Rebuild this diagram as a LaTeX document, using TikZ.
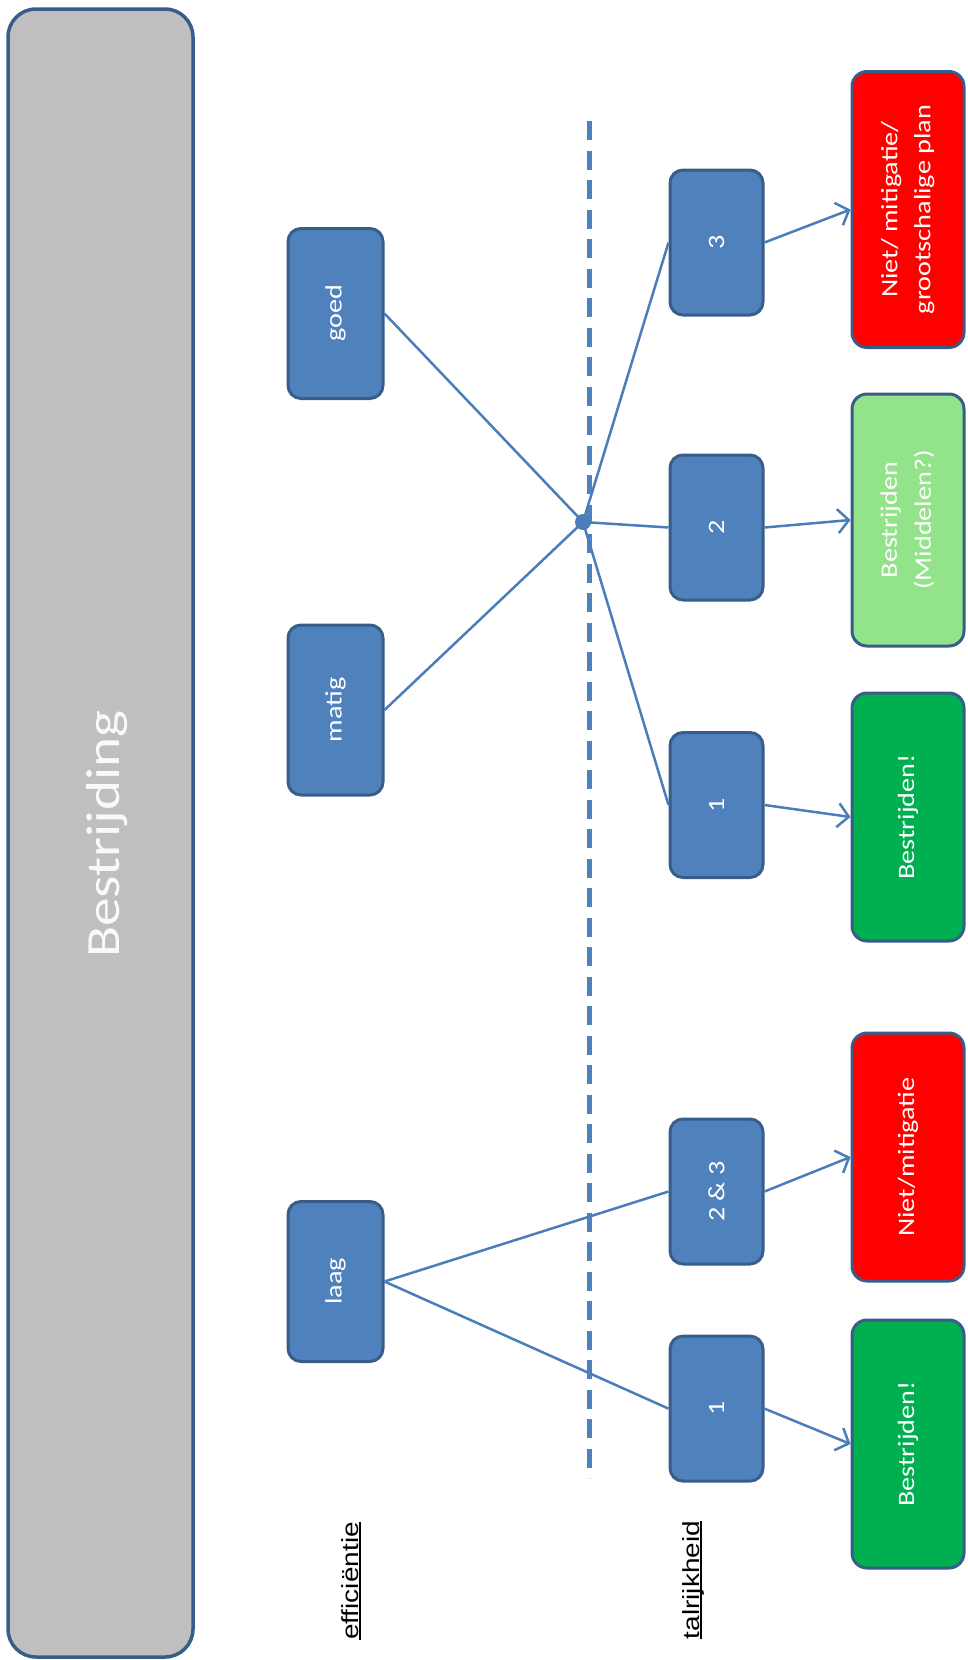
\documentclass[tikz,border=0pt]{standalone}
\usepackage{fontspec}
\usepackage{graphicx}
\usetikzlibrary{arrows.meta}
\newfontfamily\carlitofont[FakeStretch=1.2]{Carlito}
\newfontfamily\arialfont[FakeStretch=1.2]{Liberation Sans}
\newcommand\myunderline[1]{\setbox0\hbox{#1}\rlap{\rule[-2.5pt]{\wd0}{1.4pt}}\box0}
\definecolor{bfill}{HTML}{4F81BD}
\definecolor{bdark}{HTML}{385D8A}
\definecolor{lblue}{HTML}{4A7EBB}
\definecolor{gfill}{HTML}{BFBFBF}
\definecolor{rfill}{HTML}{FF0000}
\definecolor{lgfill}{HTML}{93E38B}
\definecolor{gnfill}{HTML}{00B050}
\tikzset{
  boxfont/.style={font=\carlitofont\fontsize{23.5}{29}\selectfont},
  effbox/.style={draw=bdark, fill=bfill, line width=3pt, rounded corners=13pt,
    minimum width=95pt, minimum height=170pt, inner sep=0pt, text=white, boxfont},
  talbox/.style={draw=bdark, fill=bfill, line width=3pt, rounded corners=13pt,
    minimum width=93pt, minimum height=145pt, inner sep=0pt, text=white, boxfont},
  resbox/.style={draw=bdark, line width=3pt, rounded corners=15pt,
    minimum width=112pt, minimum height=248pt, inner sep=0pt, text=white, boxfont},
  conn/.style={draw=lblue, line width=2.5pt},
  arr/.style={draw=lblue, line width=2.5pt, -{Straight Barb[length=11pt,width=24pt]}},
  heading/.style={text=black, inner sep=0pt, font=\arialfont\fontsize{23.3}{28}\selectfont},
}
\begin{document}
\begin{tikzpicture}[x=1pt,y=-1pt]
\useasboundingbox (0,0) rectangle (967,1660);
% background title box
\node[draw=bdark, fill=gfill, line width=3.5pt, rounded corners=28pt,
  minimum width=185pt, minimum height=1648pt, inner sep=0pt] (bg) at (100.5,833) {};
\node[text=white!95!gray, inner sep=0pt, font=\carlitofont\fontsize{47.7}{56}\selectfont] (title) at (107,834) {\rotatebox{90}{Bestrijding}};
% dashed separator
\coordinate (d1) at (589,121);
\coordinate (d2) at (589,1478);
\draw[draw=bfill, line width=5pt, dash pattern=on 19pt off 10.5pt] (d1) -- (d2);
% efficiency boxes
\node[effbox] (goed) at (335.5,313.5) {\rotatebox{90}{goed}};
\node[effbox] (matig) at (335.5,710) {\rotatebox{90}{matig}};
\node[effbox, minimum height=160pt] (laag) at (335.5,1281.5) {\rotatebox{90}{laag}};
% abundance boxes
\node[talbox] (t3) at (716.5,242.5) {\rotatebox{90}{3}};
\node[talbox] (t2) at (716.5,527.5) {\rotatebox{90}{2}};
\node[talbox] (t1a) at (716.5,805) {\rotatebox{90}{1}};
\node[talbox] (t23) at (716.5,1191.5) {\rotatebox{90}{2 \& 3}};
\node[talbox] (t1b) at (716.5,1408.6) {\rotatebox{90}{1}};
% result boxes
\node[resbox, fill=rfill, minimum height=276pt] (r1) at (908,209.5)
  {\rotatebox{90}{\begin{tabular}{@{}c@{}}Niet/ mitigatie/\\[4pt] grootschalige plan\end{tabular}}};
\node[resbox, fill=lgfill, minimum height=252pt] (r2) at (908,520)
  {\rotatebox{90}{\begin{tabular}{@{}c@{}}Bestrijden\\[5pt] (Middelen?)\end{tabular}}};
\node[resbox, fill=gnfill] (r3) at (908,817) {\rotatebox{90}{Bestrijden!}};
\node[resbox, fill=rfill] (r4) at (908,1157) {\rotatebox{90}{Niet/mitigatie}};
\node[resbox, fill=gnfill] (r5) at (908,1444) {\rotatebox{90}{Bestrijden!}};
% hub point
\node[circle, fill=lblue, inner sep=0pt, minimum size=16pt] (hub) at (583,522) {};
% connectors
\draw[conn] (goed.east) -- (hub.center);
\draw[conn] (matig.east) -- (hub.center);
\draw[conn] (hub.center) -- (t3.west);
\draw[conn] (hub.center) -- (t2.west);
\draw[conn] (hub.center) -- (t1a.west);
\draw[conn] (laag.east) -- (t23.west);
\draw[conn] (laag.east) -- (t1b.west);
\draw[arr] (t3.east) -- (r1.west);
\draw[arr] (t2.east) -- (r2.west);
\draw[arr] (t1a.east) -- (r3.west);
\draw[arr] (t23.east) -- (r4.west);
\draw[arr] (t1b.east) -- (r5.west);
% headings
\node[heading] (effl) at (351,1581) {\rotatebox{90}{\myunderline{efficiëntie}}};
\node[heading] (tall) at (693,1580) {\rotatebox{90}{\myunderline{talrijkheid}}};
\end{tikzpicture}
\end{document}
